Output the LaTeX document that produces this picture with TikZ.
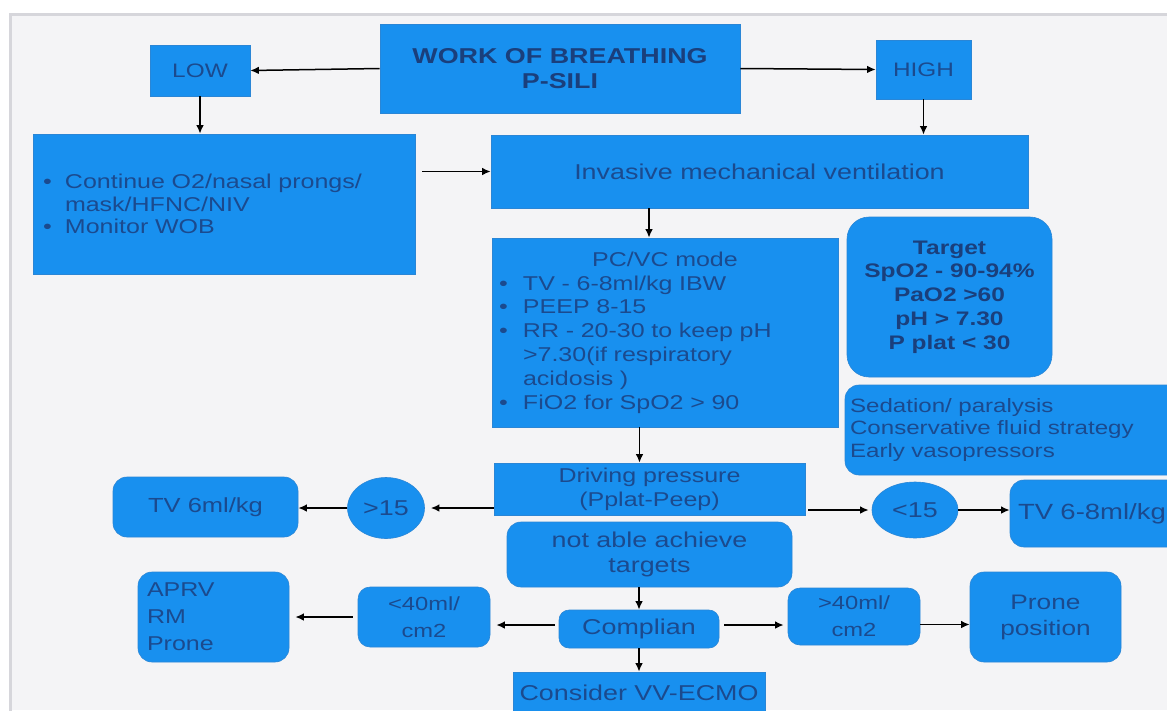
\documentclass[tikz,border=0pt]{standalone}
\usepackage{fontspec}
\setmainfont{Liberation Sans}[FakeStretch=1.25]
\usetikzlibrary{arrows.meta,shapes.geometric}
\definecolor{boxblue}{HTML}{1890EF}
\definecolor{edgeblue}{HTML}{2A86D6}
\definecolor{txtblue}{HTML}{1B4A8E}
\definecolor{workc}{HTML}{1A3F7C}
\definecolor{bgc}{HTML}{F4F4F6}
\definecolor{framec}{HTML}{D6D6DB}
\newcommand\myfs[2]{\fontsize{#1pt}{#2pt}\selectfont}
\newcommand\mybul[1]{\makebox[#1][l]{•}}
\begin{document}
\begin{tikzpicture}[x=1pt,y=-1pt,
  box/.style={rectangle, fill=boxblue, draw=edgeblue, line width=0.6pt, text=txtblue, inner sep=0pt, align=center, font=\myfs{20}{24}},
  rbox/.style={box, rounded corners=14pt},
  oval/.style={ellipse, fill=boxblue, draw=edgeblue, line width=0.6pt, text=txtblue, inner sep=0pt, font=\myfs{21.5}{24}},
  arr/.style={-{Latex[length=8.5pt,width=7.5pt]}, line width=1.5pt, black}]
\useasboundingbox (0,0) rectangle (1167,710);
\clip (0,0) rectangle (1167,710);
\fill[white] (0,0) rectangle (1167,710);
\fill[bgc] (11,15) rectangle (1167,710);
\draw[framec, line width=3pt] (10.5,712) -- (10.5,14.5) -- (1170,14.5);

\node[box, font=\bfseries\myfs{21.5}{25}, text=workc, minimum width=360pt, minimum height=89pt] (work) at (560,68.5) {WORK OF BREATHING\\P-SILI};
\node[box, font=\myfs{19.5}{23}, minimum width=100pt, minimum height=51pt] (low) at (200,70.5) {LOW};
\node[box, font=\myfs{19.5}{23}, minimum width=95pt, minimum height=59pt] (high) at (923.5,69.5) {HIGH};
\node[box, text width=362pt, inner xsep=10pt, align=left, minimum height=140pt, font=\myfs{20}{22.5}] (cont) at (224,204)
  {\mybul{22pt}Continue O2/nasal prongs/\\\hspace*{22pt}mask/HFNC/NIV\\\mybul{22pt}Monitor WOB};
\node[box, font=\myfs{21.5}{25}, minimum width=537pt, minimum height=73pt] (inv) at (759.5,171.5) {Invasive mechanical ventilation};
\node[box, text width=332pt, inner xsep=7pt, align=left, minimum height=189pt, font=\myfs{20}{23.8}] (pcvc) at (665,332.5)
  {\makebox[332pt][c]{PC/VC mode}\\\mybul{24pt}TV - 6-8ml/kg IBW\\\mybul{24pt}PEEP 8-15\\\mybul{24pt}RR - 20-30 to keep pH\\\hspace*{24pt}>7.30(if respiratory\\\hspace*{24pt}acidosis )\\\mybul{24pt}FiO2 for SpO2 > 90};
\node[rbox, rounded corners=22pt, font=\bfseries\myfs{19.6}{23.8}, text=workc, minimum width=205pt, minimum height=160pt] (target) at (949.5,297)
  {Target\\SpO2 - 90-94\%\\PaO2 >60\\pH > 7.30\\P plat < 30};
\node[rbox, text width=335pt, inner xsep=5pt, align=left, minimum height=90pt, font=\myfs{19.3}{22.5}] (sed) at (1017.5,430)
  {Sedation/ paralysis\\Conservative fluid strategy\\Early vasopressors};
\node[box, font=\myfs{20}{24}, minimum width=311pt, minimum height=52pt] (drv) at (649.5,489) {Driving pressure\\(Pplat-Peep)};
\node[oval, minimum width=77pt, minimum height=61pt] (gt15) at (386,508) {>15};
\node[rbox, font=\myfs{20.4}{24}, minimum width=185pt, minimum height=60pt] (tv6) at (205.5,507) {TV 6ml/kg};
\node[oval, minimum width=86pt, minimum height=56pt] (lt15) at (915,510) {<15};
\node[rbox, text width=164pt, inner xsep=8pt, align=left, minimum height=67pt, font=\myfs{22}{24}] (tv68) at (1100,513.5) {TV 6-8ml/kg};
\node[rbox, font=\myfs{21.5}{25}, minimum width=285pt, minimum height=65pt] (nat) at (649.5,554.5) {not able achieve\\targets};
\node[rbox, rounded corners=10pt, font=\myfs{21.5}{24}, minimum width=160pt, minimum height=38pt] (comp) at (639,629) {Complian};
\node[box, font=\myfs{21.5}{24}, minimum width=252pt, minimum height=42pt] (ecmo) at (639,693) {Consider VV-ECMO};
\node[rbox, rounded corners=12pt, font=\myfs{19}{27}, minimum width=132pt, minimum height=60pt] (lt40) at (424,617) {<40ml/\\cm2};
\node[rbox, text width=133pt, inner xsep=9pt, align=left, minimum height=90pt, font=\myfs{20}{27}] (aprv) at (213.5,617) {APRV\\RM\\Prone};
\node[rbox, rounded corners=12pt, font=\myfs{19}{27}, minimum width=132pt, minimum height=57pt] (gt40) at (854,616.5) {>40ml/\\cm2};
\node[rbox, font=\myfs{21}{26}, minimum width=151pt, minimum height=90pt] (prone) at (1045.5,617) {Prone\\position};

\draw[arr] (work.west) -- (low.east);
\draw[arr] (work.east) -- (high.west);
\draw[arr] (low.south) -- (low.south |- cont.north);
\draw[arr] (high.south) -- (high.south |- inv.north);
\draw[arr, shorten <=7pt] (cont.east |- inv.west) -- (inv.west);
\draw[arr] ([xshift=-16pt]pcvc.north |- inv.south) -- ([xshift=-16pt]pcvc.north);
\draw[arr] ([xshift=-10pt]drv.north |- pcvc.south) -- ([xshift=-10pt]drv.north);
\draw[arr, shorten >=6pt] (drv.west |- gt15.east) -- (gt15.east);
\draw[arr] (gt15.west) -- (gt15.west -| tv6.east);
\draw[arr, shorten <=3pt, shorten >=3pt] (drv.east |- lt15.west) -- (lt15.west);
\draw[arr] (lt15.east) -- (lt15.east -| tv68.west);
\draw[arr] (comp.north |- nat.south) -- (comp.north);
\draw[arr] (comp.south) -- (ecmo.north);
\draw[arr, shorten <=4pt, shorten >=6pt] ([yshift=4pt]comp.west) -- ([yshift=4pt]comp.west -| lt40.east);
\draw[arr, shorten <=5pt, shorten >=6pt] (lt40.west) -- (lt40.west -| aprv.east);
\draw[arr, shorten <=5pt, shorten >=4pt] ([yshift=4pt]comp.east) -- ([yshift=4pt]comp.east -| gt40.west);
\draw[arr] ([yshift=-8pt]gt40.east) -- ([yshift=-8pt]gt40.east -| prone.west);
\end{tikzpicture}
\end{document}
